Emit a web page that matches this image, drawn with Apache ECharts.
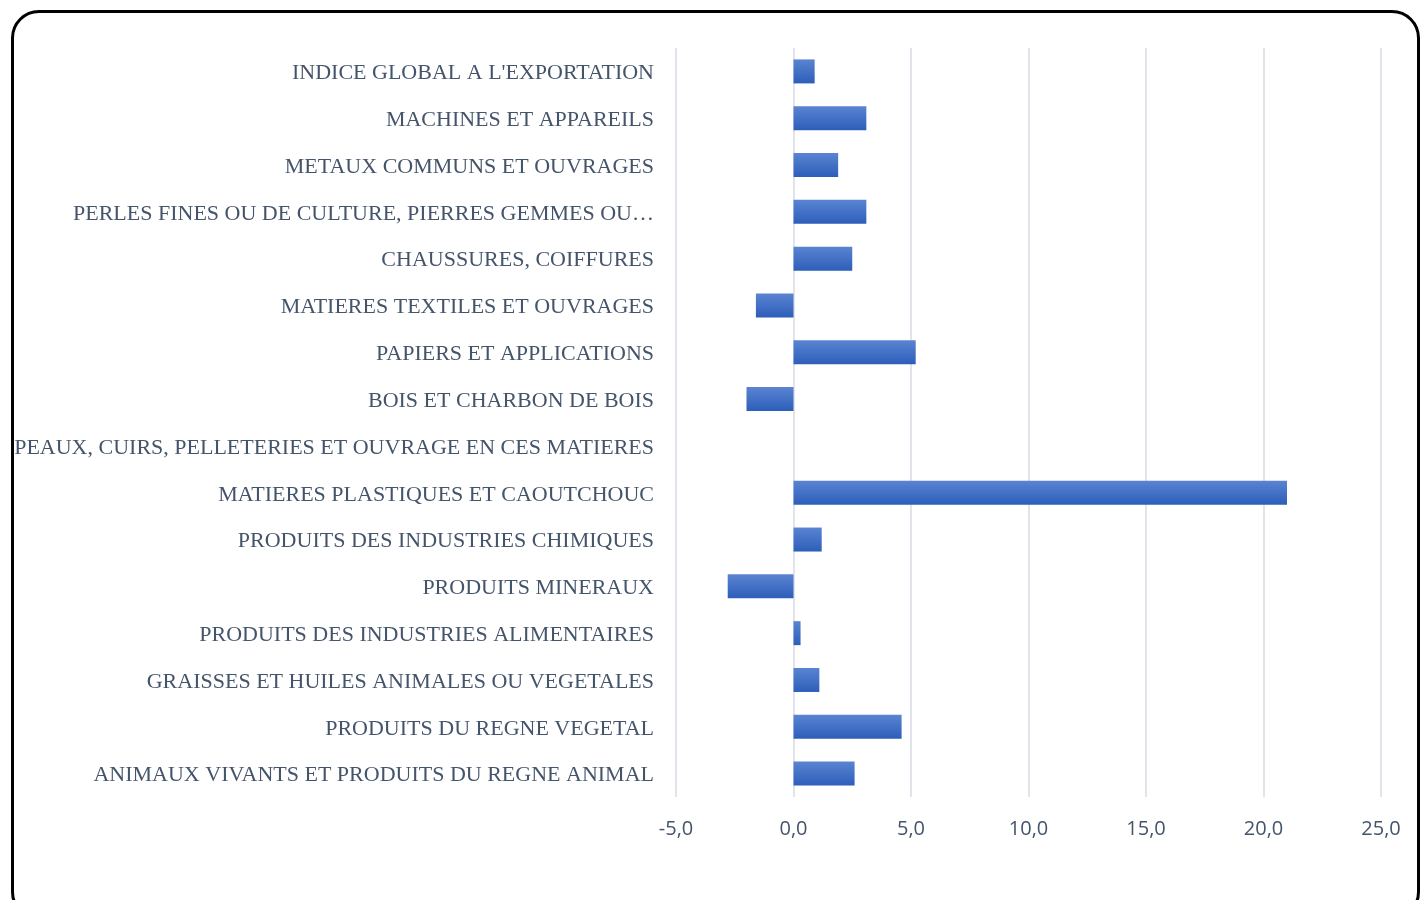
<!DOCTYPE html>
<html>
<head>
<meta charset="utf-8">
<script src="https://cdn.jsdelivr.net/npm/echarts@6/dist/echarts.min.js"></script>
<style>
  html, body { margin: 0; padding: 0; background: #fff; }
  #frame {
    position: absolute; left: 11px; top: 10px; width: 1409px; height: 910px;
    border: 3px solid #000; border-radius: 28px; box-sizing: border-box;
  }
  #chart { position: absolute; left: 0; top: 0; width: 1426px; height: 900px; }
</style>
</head>
<body>
<div id="frame"></div>
<div id="chart"></div>
<script>
// categories listed top to bottom
const categories = [
  "INDICE GLOBAL A L'EXPORTATION",
  'MACHINES ET APPAREILS',
  'METAUX COMMUNS ET OUVRAGES',
  'PERLES FINES OU DE CULTURE, PIERRES GEMMES OU…',
  'CHAUSSURES, COIFFURES',
  'MATIERES TEXTILES ET OUVRAGES',
  'PAPIERS ET APPLICATIONS',
  'BOIS ET CHARBON DE BOIS',
  'PEAUX, CUIRS, PELLETERIES ET OUVRAGE EN CES MATIERES',
  'MATIERES PLASTIQUES ET CAOUTCHOUC',
  'PRODUITS DES INDUSTRIES CHIMIQUES',
  'PRODUITS MINERAUX',
  'PRODUITS DES INDUSTRIES ALIMENTAIRES',
  'GRAISSES ET HUILES ANIMALES OU VEGETALES',
  'PRODUITS DU REGNE VEGETAL',
  'ANIMAUX VIVANTS ET PRODUITS DU REGNE ANIMAL'
]
const values = [0.9, 3.1, 1.9, 3.1, 2.5, -1.6, 5.2, -2.0, 0, 21.0, 1.2, -2.8, 0.3, 1.1, 4.6, 2.6]
const xMin = -5
const xMax = 25
const xStep = 5

const myChart = echarts.init(document.getElementById('chart'))

const option = {
  animation: false,
  grid: {
    left: 676,
    right: 45,
    top: 48,
    bottom: 103,
    containLabel: false,
  },
  xAxis: {
    type: 'value',
    min: xMin,
    max: xMax,
    interval: xStep,
    axisLine: { show: false },
    axisTick: { show: false },
    axisLabel: {
      margin: 22,
      color: '#44546a',
      fontSize: 20,
      fontFamily: 'Open Sans',
      formatter: (v) => v.toFixed(1).replace('.', ','),
    },
    splitLine: {
      lineStyle: { color: '#e1e4ea', width: 2 },
    },
  },
  yAxis: {
    type: 'category',
    inverse: true,
    data: categories,
    axisLine: { show: false },
    axisTick: { show: false },
    axisLabel: {
      margin: 22,
      formatter: (v) => '{t|' + v + '}',
      rich: {
        t: {
          color: '#44546a',
          fontSize: 22,
          fontFamily: 'Liberation Serif',
          padding: [4, 0, 0, 0],
        },
      },
    },
  },
  series: [
    {
      type: 'bar',
      data: values,
      barWidth: 24,
      itemStyle: {
        color: new echarts.graphic.LinearGradient(0, 0, 0, 1, [
          { offset: 0, color: '#5b84d2' },
          { offset: 1, color: '#2c5eb9' },
        ]),
      },
    },
  ],
}
myChart.setOption(option)
</script>
</body>
</html>
